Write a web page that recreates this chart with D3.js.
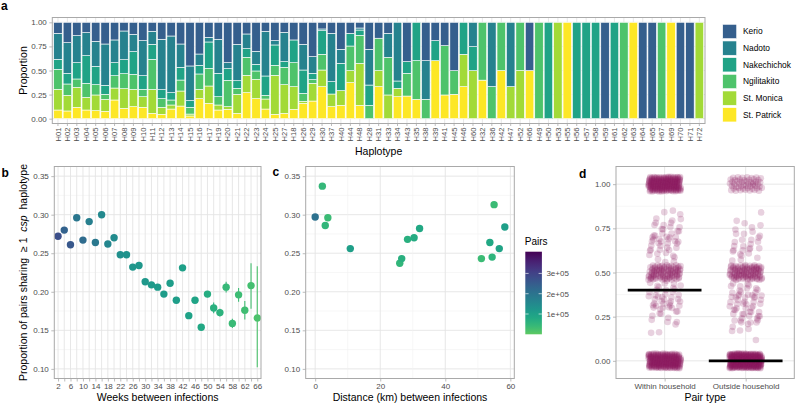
<!DOCTYPE html>
<html><head><meta charset="utf-8">
<script src="https://cdn.jsdelivr.net/npm/d3@7"></script>
<style>
body{margin:0;background:#fff}
svg{display:block}
text{font-family:"Liberation Sans",Arial,Helvetica,sans-serif}
</style>
</head><body><svg id="chart" width="800" height="406"></svg>
<script>
// ---------------- DATA ----------------
// Panel a: haplotype composition by site
const haplotypes = ["H01","H02","H03","H04","H05","H06","H07","H08","H09","H10",
"H11","H12","H13","H14","H15","H16","H17","H19","H20","H21",
"H22","H23","H24","H25","H27","H18","H26","H29","H30","H37",
"H40","H44","H48","H28","H31","H33","H34","H43","H35","H38",
"H39","H41","H45","H46","H60","H32","H36","H42","H47","H52",
"H66","H49","H50","H53","H55","H56","H57","H58","H59","H61",
"H62","H63","H64","H65","H67","H69","H70","H71","H72"];
const sites = ["Kerio","Nadoto","Nakechichok","Ngilitakito","St. Monica","St. Patrick"];
const kerio = [
.114,.211,.138,.107,.197,.225,.183,.090,.125,.190,
.093,.176,.142,.225,.453,.329,.156,.176,.419,.228,
.121,.301,.093,.190,.104,.183,.228,.356,.069,.114,
.280,.114,.059,.280,.165,.114,0,.408,0,.398,
.190,.242,.502,0,0,0,0,0,0,0,
.5,0,0,0,0,0,0,0,1,0,
0,0,1,1,0,0,1,1,0];
const nadoto = [
.270,.319,.281,.239,.260,.429,.236,.298,.179,.364,
.135,.523,.588,.242,.360,.117,.048,.353,.062,.378,
.152,.135,.464,.045,.304,0,.267,.173,.018,.502,
.146,0,.021,.371,0,.249,.609,0,0,.401,
0,0,0,0,.253,0,.667,0,.667,0,
0,0,0,0,0,0,0,0,0,0,
0,0,0,0,0,0,0,0,0];
const nakechichok = [
.104,.110,.169,.287,.190,.093,.135,.145,.236,.142,
.156,.093,.076,.132,.069,.090,.274,.243,.121,.079,
.090,.069,.201,.211,.059,.236,.242,.066,.245,.128,
.283,.132,.055,.211,0,0,.076,.121,.398,0,
.208,0,0,.332,.249,0,0,0,0,0,
0,0,1,0,0,1,1,1,0,1,
0,0,0,0,0,0,0,0,0];
const ngilitakito = [
.207,.118,.087,.146,.107,.053,.128,.156,.156,.076,
.312,.090,.052,.114,.070,.160,.183,.086,.273,.062,
.187,.087,.038,.104,.180,.249,.083,.038,.163,0,
0,.256,.291,.138,.337,.391,0,.236,.401,.201,
0,.512,.245,0,0,.600,.333,.500,0,.500,
0,1,0,0,0,0,0,0,0,0,
1,0,0,0,1,0,0,0,0];
const stMonica = [
.215,.162,.207,.131,.163,.124,.124,.204,.179,.110,
.249,.073,.042,.156,.020,.096,.180,.052,.028,.198,
.180,.200,.104,.405,.298,.235,.021,.184,.173,.131,
.153,.124,.436,0,.166,.246,.087,0,0,0,
0,0,0,.336,.498,0,0,0,.333,.500,
0,0,0,1,0,0,0,0,0,0,
0,0,0,0,0,0,0,0,1];
const stPatrick = [
.090,.080,.118,.090,.083,.076,.194,.107,.125,.118,
.055,.045,.100,.131,.028,.208,.159,.090,.097,.055,
.270,.208,.100,.045,.055,.097,.159,.183,.332,.125,
.138,.374,.138,0,.332,0,.228,.235,.201,0,
.602,.246,.253,.332,0,.400,0,.500,0,0,
.500,0,0,0,1,0,0,0,0,0,
0,1,0,0,0,1,0,0,0];
const propTicks = [0,0.25,0.5,0.75,1];

// Panel b: by weeks between infections
const weeks = [2,4,6,8,10,12,14,16,18,20,22,24,26,28,30,32,34,36,38,40,42,44,46,48,50,52,54,56,58,60,62,64,66];
const weekLabels = [2,6,10,14,18,22,26,30,34,38,42,46,50,54,58,62,66];
const propWeeks = [0.272,0.280,0.261,0.296,0.267,0.291,0.264,0.300,0.262,0.270,0.248,0.248,0.232,0.234,0.213,0.209,0.206,0.197,0.211,0.189,0.231,0.169,0.189,0.154,0.197,0.179,0.173,0.206,0.159,0.196,0.176,0.208,0.166];
const ciLowWeeks = [0.270,0.278,0.259,0.294,0.265,0.289,0.262,0.298,0.260,0.268,0.246,0.246,0.230,0.232,0.211,0.207,0.204,0.195,0.209,0.187,0.228,0.166,0.186,0.151,0.193,0.172,0.168,0.199,0.153,0.187,0.164,0.178,0.102];
const ciHighWeeks = [0.274,0.282,0.263,0.298,0.269,0.293,0.266,0.302,0.264,0.272,0.250,0.250,0.234,0.236,0.215,0.211,0.208,0.199,0.213,0.191,0.234,0.172,0.192,0.157,0.201,0.186,0.178,0.213,0.165,0.205,0.188,0.237,0.233];
const pairsWeeks = [277000,239000,260000,195000,217000,174000,190000,152000,157000,147000,136000,132000,122000,120000,117000,114000,112000,110000,108000,105000,100000,95000,90000,82000,72000,62000,58000,44000,40000,34000,30000,26000,18000];
const shareTicks = [0.10,0.15,0.20,0.25,0.30,0.35];

// Panel c: by distance
const distKm = [0,2.2,3.1,3.9,10.8,26.0,26.6,28.4,30.4,32.1,51.1,53.7,54.4,55.0,56.6,58.3];
const propDist = [0.297,0.337,0.286,0.296,0.256,0.237,0.243,0.268,0.270,0.282,0.243,0.264,0.245,0.313,0.256,0.284];
const pairsDist = [206000,45000,49000,38000,103000,49000,65000,65000,75000,81000,38000,81000,55000,38000,92000,103000];
const distTicks = [0,20,40,60];
const pairsLimits = [0, 407000];
const pairsTicks = [100000,200000,300000];

// Panel d: pair type
const pairTypes = ["Within household","Outside household"];
const dLevels      = [0, 0.125,0.167,0.2,0.25,0.286,0.333,0.4,0.429,0.5,0.571,0.6,0.667,0.714,0.75,0.8,0.833,1];
const withinCounts = [220, 0,  1,   2,  8,   5,   18,   12, 5,    90, 3,    6,  18,   6,    10,  5,  2,    200];
const outsideCounts= [320, 1,  2,   6,  12,  6,   18,   12, 5,    95, 3,    6,  12,   4,    4,   2,  0,    50];
const pairTypeSummary = [0.40, 0.00];
const dTicks = [0,0.25,0.5,0.75,1];

// ---------------- STYLE ----------------
const svg = d3.select("#chart");
const siteColor = d3.scaleOrdinal().domain(sites).range(sites.map((s,i)=>d3.interpolateViridis(0.3+0.14*i)));
const pairsColor = v => d3.interpolateViridis(0.75*(1 - (v-pairsLimits[0])/(pairsLimits[1]-pairsLimits[0])));
const gridMajor = "#E4E4E4", gridMinor = "#F2F2F2", borderCol = "#A9A9A9", tickCol = "#ABABAB", tickTxt = "#4D4D4D";
const TICKFS = 8, TITLEFS = 10.5;

function styleAxis(g){
  g.select(".domain").remove();
  g.selectAll(".tick line").attr("stroke", tickCol).attr("stroke-width", 0.8);
  g.selectAll(".tick text").attr("fill", tickTxt).style("font-size", TICKFS+"px");
}
function hGrid(g, y, major, minor, x0, x1){
  g.selectAll(null).data(minor).join("line").attr("x1",x0).attr("x2",x1)
    .attr("y1",d=>y(d)).attr("y2",d=>y(d)).attr("stroke",gridMinor).attr("stroke-width",0.6);
  g.selectAll(null).data(major).join("line").attr("x1",x0).attr("x2",x1)
    .attr("y1",d=>y(d)).attr("y2",d=>y(d)).attr("stroke",gridMajor).attr("stroke-width",0.9);
}
function vGrid(g, xs, y0, y1, col, w){
  g.selectAll(null).data(xs).join("line").attr("x1",d=>d).attr("x2",d=>d)
    .attr("y1",y0).attr("y2",y1).attr("stroke",col).attr("stroke-width",w);
}
function border(P){
  svg.append("rect").attr("x",P.l).attr("y",P.t).attr("width",P.r-P.l).attr("height",P.b-P.t)
    .attr("fill","none").attr("stroke",borderCol).attr("stroke-width",1);
}
function label(txt,x,y){
  svg.append("text").attr("x",x).attr("y",y).text(txt).style("font-size","12px").style("font-weight","bold").attr("fill","#000");
}
function mids(arr){ const r=[]; for(let i=0;i<arr.length-1;i++) r.push((arr[i]+arr[i+1])/2); return r; }

// ---------------- PANEL A ----------------
const A = {l:52.3, r:705, t:17.5, b:123.5};
const xa = d3.scaleBand().domain(haplotypes).range([A.l, A.r]).paddingInner(0.1).paddingOuter(0.15);
const ya = d3.scaleLinear().domain([-0.05,1.05]).range([A.b, A.t]);
const ga = svg.append("g");
hGrid(ga, ya, propTicks, mids(propTicks), A.l, A.r);
vGrid(ga, haplotypes.map(h=>xa(h)+xa.bandwidth()/2), A.t, A.b, gridMajor, 0.9);

const siteArrays = {"Kerio":kerio,"Nadoto":nadoto,"Nakechichok":nakechichok,"Ngilitakito":ngilitakito,"St. Monica":stMonica,"St. Patrick":stPatrick};
const rowsA = haplotypes.map((h,i)=>{ const o={hap:h}; sites.forEach(s=>o[s]=siteArrays[s][i]); return o; });
const stackKeys = sites.slice().reverse(); // bottom: St. Patrick ... top: Kerio
const stacked = d3.stack().keys(stackKeys)(rowsA);
ga.selectAll("g.layer").data(stacked).join("g").attr("class","layer")
  .attr("fill", d=>siteColor(d.key))
  .selectAll("rect").data(d=>d.filter(e=>e[1]-e[0]>0)).join("rect")
  .attr("x", d=>xa(d.data.hap)).attr("width", xa.bandwidth())
  .attr("y", d=>ya(d[1])).attr("height", d=>ya(d[0])-ya(d[1]))
  .attr("stroke","#fff").attr("stroke-width",0.6);
border(A);
const axA_y = svg.append("g").attr("transform",`translate(${A.l},0)`)
  .call(d3.axisLeft(ya).tickValues(propTicks).tickFormat(d3.format(".2f")).tickSize(3).tickPadding(2.5));
styleAxis(axA_y);
const axA_x = svg.append("g").attr("transform",`translate(0,${A.b})`)
  .call(d3.axisBottom(xa).tickSize(2.5).tickPadding(2));
styleAxis(axA_x);
axA_x.selectAll(".tick text").attr("transform","rotate(-90)").attr("text-anchor","end")
  .attr("x",-4).attr("y",0).attr("dy","0.35em").style("font-size","7.6px");
svg.append("text").attr("transform",`translate(26.5,${(A.t+A.b)/2}) rotate(-90)`).attr("text-anchor","middle")
  .style("font-size",TITLEFS+"px").text("Proportion");
svg.append("text").attr("x",(A.l+A.r)/2).attr("y",154.5).attr("text-anchor","middle")
  .style("font-size",TITLEFS+"px").text("Haplotype");
// legend a
const legA = svg.append("g").attr("transform","translate(722.7,24.3)");
sites.forEach((s,i)=>{
  legA.append("rect").attr("x",0).attr("y",i*16.67).attr("width",14).attr("height",14.3)
    .attr("fill",siteColor(s)).attr("stroke","#fff").attr("stroke-width",0.6);
  legA.append("text").attr("x",20.3).attr("y",i*16.67+7.15).attr("dy","0.35em")
    .style("font-size","8.4px").attr("fill","#000").text(s);
});
label("a",1,9.5);

// ---------------- PANEL B ----------------
const B = {l:54.3, r:261, t:166.5, b:378.5};
const xb = d3.scalePoint().domain(weeks).range([B.l,B.r]).padding(0.6);
const yb = d3.scaleLinear().domain([0.0875,0.3625]).range([B.b,B.t]);
const gb = svg.append("g");
hGrid(gb, yb, shareTicks, mids(shareTicks), B.l, B.r);
vGrid(gb, weeks.map(w=>xb(w)), B.t, B.b, gridMajor, 0.9);
const rowsB = weeks.map((w,i)=>({w, p:propWeeks[i], lo:ciLowWeeks[i], hi:ciHighWeeks[i], n:pairsWeeks[i]}));
gb.selectAll("line.err").data(rowsB).join("line").attr("class","err")
  .attr("x1",d=>xb(d.w)).attr("x2",d=>xb(d.w)).attr("y1",d=>yb(d.lo)).attr("y2",d=>yb(d.hi))
  .attr("stroke",d=>pairsColor(d.n)).attr("stroke-width",1.1);
gb.selectAll("circle").data(rowsB).join("circle")
  .attr("cx",d=>xb(d.w)).attr("cy",d=>yb(d.p)).attr("r",3.7).attr("fill",d=>pairsColor(d.n));
border(B);
const axB_y = svg.append("g").attr("transform",`translate(${B.l},0)`)
  .call(d3.axisLeft(yb).tickValues(shareTicks).tickFormat(d3.format(".2f")).tickSize(3).tickPadding(2.5));
styleAxis(axB_y);
const axB_x = svg.append("g").attr("transform",`translate(0,${B.b})`)
  .call(d3.axisBottom(xb).tickValues(weeks).tickFormat(d=>weekLabels.includes(d)?d:"").tickSize(3).tickPadding(1.5));
styleAxis(axB_x);
svg.append("text").attr("x",(B.l+B.r)/2).attr("y",401).attr("text-anchor","middle")
  .style("font-size",TITLEFS+"px").text("Weeks between infections");
const yt = svg.append("text").attr("transform",`translate(27,${(B.t+B.b)/2}) rotate(-90)`).attr("text-anchor","middle")
  .style("font-size",TITLEFS+"px").style("white-space","pre");
yt.append("tspan").text("Proportion of pairs sharing  \u2265 1  ");
yt.append("tspan").style("font-style","italic").text("csp");
yt.append("tspan").text("  haplotype");
label("b",1.5,176.7);

// ---------------- PANEL C ----------------
const C = {l:305.7, r:514.3, t:166.5, b:378.5};
const xc = d3.scaleLinear().domain([-2.915,61.215]).range([C.l,C.r]);
const yc = yb.copy().range([C.b,C.t]);
const gc = svg.append("g");
hGrid(gc, yc, shareTicks, mids(shareTicks), C.l, C.r);
vGrid(gc, mids(distTicks).map(d=>xc(d)), C.t, C.b, gridMinor, 0.6);
vGrid(gc, distTicks.map(d=>xc(d)), C.t, C.b, gridMajor, 0.9);
const rowsC = distKm.map((d,i)=>({d, p:propDist[i], n:pairsDist[i]}));
gc.selectAll("circle").data(rowsC).join("circle")
  .attr("cx",d=>xc(d.d)).attr("cy",d=>yc(d.p)).attr("r",3.7).attr("fill",d=>pairsColor(d.n));
border(C);
const axC_y = svg.append("g").attr("transform",`translate(${C.l},0)`)
  .call(d3.axisLeft(yc).tickValues(shareTicks).tickFormat(d3.format(".2f")).tickSize(3).tickPadding(2.5));
styleAxis(axC_y);
const axC_x = svg.append("g").attr("transform",`translate(0,${C.b})`)
  .call(d3.axisBottom(xc).tickValues(distTicks).tickFormat(d3.format("d")).tickSize(3).tickPadding(1.5));
styleAxis(axC_x);
svg.append("text").attr("x",(C.l+C.r)/2).attr("y",401).attr("text-anchor","middle")
  .style("font-size",TITLEFS+"px").text("Distance (km) between infections");
label("c",272.5,175.5);

// colorbar legend
const cb = {x:525.3, w:16.6, top:251.7, bot:334.3};
const ycb = d3.scaleLinear().domain(pairsLimits).range([cb.bot, cb.top]);
const defs = svg.append("defs");
const grad = defs.append("linearGradient").attr("id","pairsGrad").attr("x1",0).attr("y1",1).attr("x2",0).attr("y2",0);
d3.range(0,1.0001,0.05).forEach(f=>{
  grad.append("stop").attr("offset",f).attr("stop-color",pairsColor(pairsLimits[0]+f*(pairsLimits[1]-pairsLimits[0])));
});
svg.append("rect").attr("x",cb.x).attr("y",cb.top).attr("width",cb.w).attr("height",cb.bot-cb.top).attr("fill","url(#pairsGrad)");
const axCb = svg.append("g").attr("transform",`translate(${cb.x+cb.w},0)`)
  .call(d3.axisRight(ycb).tickValues(pairsTicks).tickFormat(d=>d3.format(".0e")(d).replace("e+","e+0")).tickSize(0).tickPadding(4.5));
styleAxis(axCb);
pairsTicks.forEach(t=>{
  svg.append("line").attr("x1",cb.x).attr("x2",cb.x+3.3).attr("y1",ycb(t)).attr("y2",ycb(t)).attr("stroke","#fff").attr("stroke-opacity",0.8).attr("stroke-width",0.8);
  svg.append("line").attr("x1",cb.x+cb.w-3.3).attr("x2",cb.x+cb.w).attr("y1",ycb(t)).attr("y2",ycb(t)).attr("stroke","#fff").attr("stroke-opacity",0.8).attr("stroke-width",0.8);
});
svg.append("text").attr("x",cb.x-0.5).attr("y",241.7).attr("dy","0.35em").style("font-size","10px").text("Pairs");

// ---------------- PANEL D ----------------
const D = {l:616, r:794.3, t:166.5, b:378.5};
const xd = d3.scalePoint().domain(pairTypes).range([D.l,D.r]).padding(0.6);
const yd = d3.scaleLinear().domain([-0.1,1.1]).range([D.b,D.t]);
const step = xd.step();
const gd = svg.append("g");
hGrid(gd, yd, dTicks, mids(dTicks), D.l, D.r);
vGrid(gd, pairTypes.map(p=>xd(p)), D.t, D.b, gridMajor, 0.9);
const jitW = 0.2, jitH = 0.042;
function buildPoints(group, counts){
  const pts=[]; let k=0;
  dLevels.forEach((v,i)=>{
    for(let j=0;j<counts[i];j++){
      k++;
      const u=(0.5+k*0.7548776662)%1, w=(0.5+k*0.5698402910)%1;
      pts.push({group, v, dx:(2*u-1)*jitW, dy:(2*w-1)*jitH});
    }
  });
  return pts;
}
const ptsD = buildPoints(pairTypes[0], withinCounts).concat(buildPoints(pairTypes[1], outsideCounts));
gd.selectAll("circle").data(ptsD).join("circle")
  .attr("cx",d=>xd(d.group)+d.dx*step).attr("cy",d=>yd(d.v+d.dy)).attr("r",3.3)
  .attr("fill","#8B1A5E").attr("fill-opacity",0.2);
gd.selectAll("line.med").data(pairTypes).join("line").attr("class","med")
  .attr("x1",d=>xd(d)-0.455*step).attr("x2",d=>xd(d)+0.455*step)
  .attr("y1",(d,i)=>yd(pairTypeSummary[i])).attr("y2",(d,i)=>yd(pairTypeSummary[i]))
  .attr("stroke","#000").attr("stroke-width",2.8);
border(D);
const axD_y = svg.append("g").attr("transform",`translate(${D.l},0)`)
  .call(d3.axisLeft(yd).tickValues(dTicks).tickFormat(d3.format(".2f")).tickSize(3).tickPadding(2.5));
styleAxis(axD_y);
const axD_x = svg.append("g").attr("transform",`translate(0,${D.b})`)
  .call(d3.axisBottom(xd).tickSize(3).tickPadding(1.5));
styleAxis(axD_x);
svg.append("text").attr("x",(D.l+D.r)/2).attr("y",401).attr("text-anchor","middle")
  .style("font-size",TITLEFS+"px").text("Pair type");
label("d",579,178);
</script></body></html>
